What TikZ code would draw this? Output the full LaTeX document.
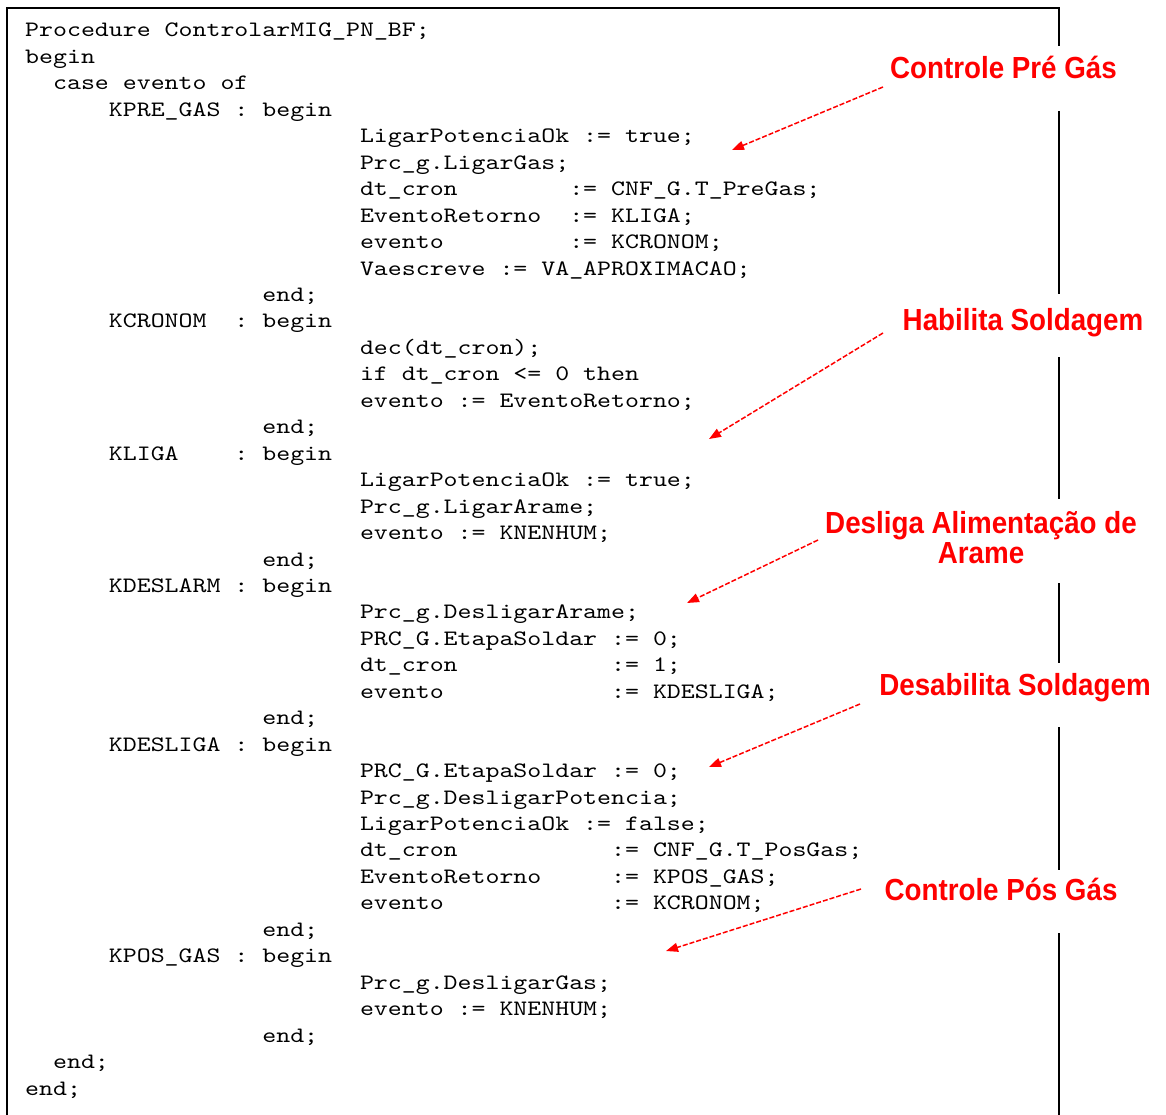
\documentclass[tikz,border=0pt]{standalone}
\usepackage{fontspec}
\usetikzlibrary{arrows.meta}
\newfontfamily\codefont{lmmono10-regular.otf}[FakeStretch=1.208]
\newfontfamily\lblfont{Liberation Sans}[FakeStretch=0.91]
\definecolor{annred}{RGB}{255,0,0}
\tikzset{
  code/.style={anchor=base west, inner sep=0pt, font=\codefont\fontsize{22}{26}\selectfont},
  lbl/.style={anchor=base, inner sep=0pt, text=annred, font=\lblfont\bfseries\fontsize{30.5}{30}\selectfont},
  frame/.style={line width=2.5pt, black},
  arr/.style={annred, line width=1.5pt, dash pattern=on 5pt off 2pt, -{Triangle[length=12pt,width=9pt]}}
}
\newcommand\cx[1]{25+#1*13.95}
\newcommand\by[1]{37+(#1-1)*26.45}
\begin{document}
\begin{tikzpicture}[x=1pt,y=-1pt]
\useasboundingbox (0,0) rectangle (1166,1115);
% frame
\draw[frame] (7,1115) -- (7,8) -- (1059,8) -- (1059,46);
\draw[frame] (1059,111) -- (1059,294);
\draw[frame] (1059,357) -- (1059,499);
\draw[frame] (1059,583) -- (1059,663);
\draw[frame] (1059,727) -- (1059,870);
\draw[frame] (1059,933) -- (1059,1115);
% code
\node[code] (l1)  at ({\cx{0}},{\by{1}})  {Procedure ControlarMIG\_PN\_BF;};
\node[code] (l2)  at ({\cx{0}},{\by{2}})  {begin};
\node[code] (l3)  at ({\cx{2}},{\by{3}})  {case evento of};
\node[code] (l4)  at ({\cx{6}},{\by{4}})  {KPRE\_GAS : begin};
\node[code] (l5)  at ({\cx{24}},{\by{5}}) {LigarPotenciaOk := true;};
\node[code] (l6)  at ({\cx{24}},{\by{6}}) {Prc\_g.LigarGas;};
\node[code] (l7)  at ({\cx{24}},{\by{7}}) {dt\_cron~~~~~~~~:=~CNF\_G.T\_PreGas;};
\node[code] (l8)  at ({\cx{24}},{\by{8}}) {EventoRetorno~~:=~KLIGA;};
\node[code] (l9)  at ({\cx{24}},{\by{9}}) {evento~~~~~~~~~:=~KCRONOM;};
\node[code] (l10) at ({\cx{24}},{\by{10}}) {Vaescreve := VA\_APROXIMACAO;};
\node[code] (l11) at ({\cx{17}},{\by{11}}) {end;};
\node[code] (l12) at ({\cx{6}},{\by{12}})  {KCRONOM~~: begin};
\node[code] (l13) at ({\cx{24}},{\by{13}}) {dec(dt\_cron);};
\node[code] (l14) at ({\cx{24}},{\by{14}}) {if dt\_cron <= 0 then};
\node[code] (l15) at ({\cx{24}},{\by{15}}) {evento := EventoRetorno;};
\node[code] (l16) at ({\cx{17}},{\by{16}}) {end;};
\node[code] (l17) at ({\cx{6}},{\by{17}})  {KLIGA~~~~: begin};
\node[code] (l18) at ({\cx{24}},{\by{18}}) {LigarPotenciaOk := true;};
\node[code] (l19) at ({\cx{24}},{\by{19}}) {Prc\_g.LigarArame;};
\node[code] (l20) at ({\cx{24}},{\by{20}}) {evento := KNENHUM;};
\node[code] (l21) at ({\cx{17}},{\by{21}}) {end;};
\node[code] (l22) at ({\cx{6}},{\by{22}})  {KDESLARM : begin};
\node[code] (l23) at ({\cx{24}},{\by{23}}) {Prc\_g.DesligarArame;};
\node[code] (l24) at ({\cx{24}},{\by{24}}) {PRC\_G.EtapaSoldar := 0;};
\node[code] (l25) at ({\cx{24}},{\by{25}}) {dt\_cron~~~~~~~~~~~:=~1;};
\node[code] (l26) at ({\cx{24}},{\by{26}}) {evento~~~~~~~~~~~~:=~KDESLIGA;};
\node[code] (l27) at ({\cx{17}},{\by{27}}) {end;};
\node[code] (l28) at ({\cx{6}},{\by{28}})  {KDESLIGA : begin};
\node[code] (l29) at ({\cx{24}},{\by{29}}) {PRC\_G.EtapaSoldar := 0;};
\node[code] (l30) at ({\cx{24}},{\by{30}}) {Prc\_g.DesligarPotencia;};
\node[code] (l31) at ({\cx{24}},{\by{31}}) {LigarPotenciaOk := false;};
\node[code] (l32) at ({\cx{24}},{\by{32}}) {dt\_cron~~~~~~~~~~~:=~CNF\_G.T\_PosGas;};
\node[code] (l33) at ({\cx{24}},{\by{33}}) {EventoRetorno~~~~~:=~KPOS\_GAS;};
\node[code] (l34) at ({\cx{24}},{\by{34}}) {evento~~~~~~~~~~~~:=~KCRONOM;};
\node[code] (l35) at ({\cx{17}},{\by{35}}) {end;};
\node[code] (l36) at ({\cx{6}},{\by{36}})  {KPOS\_GAS : begin};
\node[code] (l37) at ({\cx{24}},{\by{37}}) {Prc\_g.DesligarGas;};
\node[code] (l38) at ({\cx{24}},{\by{38}}) {evento := KNENHUM;};
\node[code] (l39) at ({\cx{17}},{\by{39}}) {end;};
\node[code] (l40) at ({\cx{2}},{\by{40}})  {end;};
\node[code] (l41) at ({\cx{0}},{\by{41}})  {end;};
% labels
\node[lbl] (t1) at (1003.5,79) {Controle Pré Gás};
\node[lbl] (t2) at (1023,330) {Habilita Soldagem};
\node[lbl] (t3a) at (981,533) {Desliga Alimentação de};
\node[lbl] (t3b) at (981,563) {Arame};
\node[lbl] (t4) at (1015,695) {Desabilita Soldagem};
\node[lbl] (t5) at (1001,900) {Controle Pós Gás};
% arrows
\coordinate (a1s) at (883,87);  \coordinate (a1e) at (732,150);
\coordinate (a2s) at (883,333); \coordinate (a2e) at (709,439);
\coordinate (a3s) at (818,540); \coordinate (a3e) at (687,603);
\coordinate (a4s) at (860,704); \coordinate (a4e) at (709,767);
\coordinate (a5s) at (861,889); \coordinate (a5e) at (666,951);
\draw[arr] (a1s) -- (a1e);
\draw[arr] (a2s) -- (a2e);
\draw[arr] (a3s) -- (a3e);
\draw[arr] (a4s) -- (a4e);
\draw[arr] (a5s) -- (a5e);
\end{tikzpicture}
\end{document}
